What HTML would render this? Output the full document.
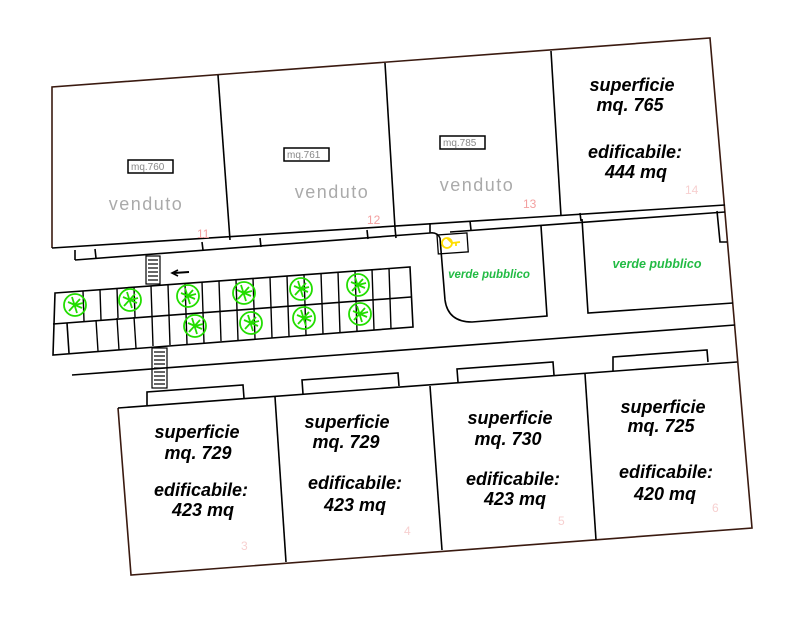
<!DOCTYPE html>
<html><head><style>body{margin:0;background:#fff}svg{display:block}</style></head><body>
<svg width="800" height="630" viewBox="0 0 800 630" xmlns="http://www.w3.org/2000/svg">
<defs>
<g id="t"><circle cx="0" cy="0" r="11"/><path d="M-7,-3 L7,3 M-3,-8 L2,8 M-6,6 L5,-6 M0,0 L8,-2"/></g>
</defs>
<g fill="none" stroke="#000" stroke-width="1.6">
<polyline points="52,248 52,87 710,38 752,528 131,575 118,408" stroke="#3a1a10"/>
<line x1="218" y1="75" x2="230" y2="240"/>
<line x1="385" y1="63" x2="395" y2="228"/>
<line x1="551" y1="51" x2="561" y2="216"/>
<polyline points="52,248 725,205"/>
<polyline points="75,260 75,250"/>
<polyline points="75,260 430,233"/>
<path d="M430,233 Q437,232 440,238"/>
<line x1="430" y1="223" x2="430" y2="233"/>
<line x1="395" y1="228" x2="396" y2="238"/>
<line x1="450" y1="232" x2="725" y2="212"/>
<line x1="95" y1="249" x2="96" y2="258"/>
<line x1="202" y1="242" x2="203" y2="250"/>
<line x1="260" y1="238" x2="261" y2="247"/>
<line x1="367" y1="230" x2="368" y2="239"/>
<line x1="470" y1="221" x2="471" y2="230"/>
<line x1="580" y1="213" x2="581" y2="221"/>
<path d="M440,238 L445,300 Q448,322 472,322 L547,316 L541,226"/>
<rect x="437" y="235" width="30" height="19" transform="rotate(-4 437 235)" stroke-width="1.3"/>
<polyline points="582,219 588,313 733,303"/>
<polyline points="717,211 720,242 727,242"/>
<line x1="72" y1="375" x2="735" y2="325"/>
<polygon points="55,293 410,267 413,327 53,355"/>
<line x1="53" y1="324" x2="411" y2="297"/>
<line x1="67" y1="323" x2="69" y2="353"/>
</g>
<g stroke="#000" stroke-width="1.4">
<line x1="83" y1="291" x2="84" y2="321"/><line x1="100" y1="290" x2="101" y2="320"/>
<line x1="117" y1="289" x2="118" y2="318"/><line x1="134" y1="287" x2="135" y2="317"/>
<line x1="151" y1="286" x2="153" y2="346"/><line x1="168" y1="285" x2="170" y2="345"/>
<line x1="185" y1="283" x2="187" y2="344"/><line x1="202" y1="282" x2="204" y2="343"/>
<line x1="219" y1="281" x2="221" y2="341"/><line x1="236" y1="280" x2="238" y2="340"/>
<line x1="253" y1="278" x2="255" y2="339"/><line x1="270" y1="277" x2="272" y2="338"/>
<line x1="287" y1="276" x2="289" y2="336"/><line x1="304" y1="275" x2="306" y2="335"/>
<line x1="321" y1="273" x2="323" y2="334"/><line x1="338" y1="272" x2="340" y2="333"/>
<line x1="355" y1="271" x2="357" y2="331"/><line x1="372" y1="269" x2="374" y2="330"/>
<line x1="389" y1="268" x2="391" y2="329"/>
<line x1="96" y1="320" x2="98" y2="351"/><line x1="117" y1="318" x2="119" y2="350"/><line x1="134" y1="317" x2="136" y2="348"/>
</g>
<g fill="none" stroke="#000" stroke-width="1.2">
<rect x="146" y="256" width="14" height="28"/>
<line x1="148" y1="260" x2="158" y2="260"/><line x1="148" y1="264" x2="158" y2="264"/><line x1="148" y1="268" x2="158" y2="268"/><line x1="148" y1="272" x2="158" y2="272"/><line x1="148" y1="276" x2="158" y2="276"/><line x1="148" y1="280" x2="158" y2="280"/>
<rect x="152" y="348" width="15" height="40"/>
<line x1="154" y1="352" x2="165" y2="352"/><line x1="154" y1="356" x2="165" y2="356"/><line x1="154" y1="360" x2="165" y2="360"/><line x1="154" y1="364" x2="165" y2="364"/><line x1="154" y1="368" x2="165" y2="368"/><line x1="154" y1="372" x2="165" y2="372"/><line x1="154" y1="376" x2="165" y2="376"/><line x1="154" y1="380" x2="165" y2="380"/><line x1="154" y1="384" x2="165" y2="384"/>
<line x1="174" y1="273" x2="189" y2="272" stroke-width="2"/>
<polyline points="178,270 172,273 178,276" stroke-width="1.6"/>
</g>
<g fill="none" stroke="#22dd00" stroke-width="1.8">
<use href="#t" transform="translate(75,305)"/><use href="#t" transform="translate(130,300)"/><use href="#t" transform="translate(188,296)"/><use href="#t" transform="translate(244,293)"/><use href="#t" transform="translate(301,289)"/><use href="#t" transform="translate(358,285)"/>
<use href="#t" transform="translate(195,326)"/><use href="#t" transform="translate(251,323)"/><use href="#t" transform="translate(304,318)"/><use href="#t" transform="translate(360,314)"/>
</g>
<g fill="none" stroke="#000" stroke-width="1.6">
<line x1="118" y1="408" x2="737" y2="362"/>
<line x1="275" y1="397" x2="286" y2="562"/>
<line x1="430" y1="386" x2="442" y2="550"/>
<line x1="585" y1="374" x2="596" y2="540"/>
<polyline points="147,405 147,392 243,385 244,398"/>
<polyline points="303,394 302,380 398,373 399,386"/>
<polyline points="458,382 457,369 553,362 554,375"/>
<polyline points="613,371 613,357 707,350 708,362"/>
</g>
<g fill="none" stroke="#000" stroke-width="1.5">
<rect x="128" y="160" width="45" height="13"/>
<rect x="284" y="148" width="45" height="13"/>
<rect x="440" y="136" width="45" height="13"/>
</g>
<g font-family="Liberation Sans, sans-serif" fill="#888" font-size="10">
<text x="131" y="170">mq.760</text><text x="287" y="158">mq.761</text><text x="443" y="146">mq.785</text>
</g>
<g font-family="Liberation Sans, sans-serif" fill="#aaa" font-size="18" letter-spacing="1.5" text-anchor="middle">
<text x="146" y="210">venduto</text><text x="332" y="198">venduto</text><text x="477" y="191">venduto</text>
</g>
<g font-family="Liberation Sans, sans-serif" fill="#f3a0a0" font-size="12">
<text x="197" y="238">11</text><text x="367" y="224">12</text><text x="523" y="208">13</text><text x="685" y="194" fill="#f7d0d0">14</text>
<text x="241" y="550" fill="#f7d0d0">3</text><text x="404" y="535" fill="#f7d0d0">4</text><text x="558" y="525" fill="#f7d0d0">5</text><text x="712" y="512" fill="#f7d0d0">6</text>
</g>
<g font-family="Liberation Sans, sans-serif" fill="#22bb44" font-weight="bold" font-style="italic" text-anchor="middle">
<text x="489" y="278" font-size="11.5">verde pubblico</text>
<text x="657" y="268" font-size="12.5">verde pubblico</text>
</g>
<g font-family="Liberation Sans, sans-serif" fill="#000" font-weight="bold" font-style="italic" font-size="18" text-anchor="middle">
<text x="632" y="91">superficie</text><text x="630" y="111">mq. 765</text><text x="635" y="158">edificabile:</text><text x="636" y="178">444 mq</text>
<text x="197" y="438">superficie</text><text x="198" y="459">mq. 729</text><text x="201" y="496">edificabile:</text><text x="203" y="516">423 mq</text>
<text x="347" y="428">superficie</text><text x="346" y="448">mq. 729</text><text x="355" y="489">edificabile:</text><text x="355" y="511">423 mq</text>
<text x="510" y="424">superficie</text><text x="508" y="445">mq. 730</text><text x="513" y="485">edificabile:</text><text x="515" y="505">423 mq</text>
<text x="663" y="413">superficie</text><text x="661" y="432">mq. 725</text><text x="666" y="478">edificabile:</text><text x="665" y="500">420 mq</text>
</g>
<g fill="none" stroke="#ffdd00" stroke-width="1.8">
<circle cx="447" cy="243" r="5"/><path d="M447,238 L452,243 L460,242 M456,242 L456,246"/>
</g>
</svg>
</body></html>
